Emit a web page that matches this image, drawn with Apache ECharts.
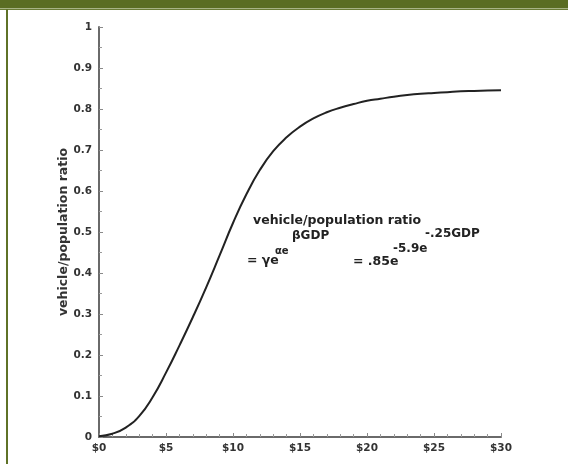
<!DOCTYPE html>
<html>
<head>
<meta charset="utf-8">
<script src="https://cdn.jsdelivr.net/npm/echarts@6/dist/echarts.min.js"></script>
<style>html,body{margin:0;padding:0;background:#fff}#c{width:568px;height:464px}</style>
</head>
<body>
<div id="c"></div>
<script>
// GDP per capita (thousand $) and read-off vehicle/population ratio
const gdp = [0,1,2,3,4,5,6,7,8,9,10,11,12,13,14,15,16,17,18,19,20,21,22,23,24,25,26,27,28,29,30];
const ratio = [0.002,0.008,0.023,0.051,0.097,0.157,0.223,0.292,0.365,0.443,0.522,0.592,0.651,0.697,0.731,0.757,0.777,0.792,0.803,0.812,0.82,0.825,0.83,0.834,0.837,0.839,0.841,0.843,0.844,0.845,0.846];
const xTicks = [0,5,10,15,20,25,30];
const yTicks = [0,0.1,0.2,0.3,0.4,0.5,0.6,0.7,0.8,0.9,1];
const yName = 'vehicle/population ratio';

const points = gdp.map((g,i)=>[g, ratio[i]]);
const font = '"DejaVu Sans", sans-serif';
const chart = echarts.init(document.getElementById('c'), null, {renderer:'canvas'});
const axisCommon = {
  axisLine:{show:true, onZero:false, lineStyle:{color:'#6a6a6a', width:2}},
  axisTick:{show:true, inside:true, length:4, lineStyle:{color:'#8a8a8a', width:1}},
  minorTick:{show:true, length:3, lineStyle:{color:'#9a9a9a', width:1}},
  splitLine:{show:false},
  axisLabel:{color:'#333', fontFamily:font, fontWeight:'bold', fontSize:10.5}
};
chart.setOption({
  animation:false,
  backgroundColor:'#fff',
  grid:{left:99, right:67, top:27, bottom:27, containLabel:false},
  xAxis:Object.assign({}, axisCommon, {
    type:'value', min:xTicks[0], max:xTicks[xTicks.length-1], interval:5,
    minorTick:Object.assign({}, axisCommon.minorTick, {splitNumber:5}),
    axisLabel:Object.assign({}, axisCommon.axisLabel, {margin:6, formatter:v=>'$'+v})
  }),
  yAxis:Object.assign({}, axisCommon, {
    type:'value', min:yTicks[0], max:yTicks[yTicks.length-1], interval:0.1,
    minorTick:Object.assign({}, axisCommon.minorTick, {splitNumber:2}),
    axisLabel:Object.assign({}, axisCommon.axisLabel, {margin:7, formatter:v=>String(+v.toFixed(1))}),
    name:yName, nameLocation:'middle', nameGap:29, nameRotate:90, nameMoveOverlap:false,
    nameTextStyle:{color:'#333', fontFamily:font, fontWeight:'bold', fontSize:12.5}
  }),
  series:[{
    type:'line', data:points, smooth:true, symbol:'none',
    lineStyle:{color:'#222', width:2}
  }],
  graphic:[
    {type:'rect', shape:{x:0,y:0,width:568,height:8}, style:{fill:'#5a6d22'}},
    {type:'rect', shape:{x:0,y:8,width:568,height:1}, style:{fill:'#a7b385'}},
    {type:'rect', shape:{x:0,y:9,width:568,height:1}, style:{fill:'#6a7c36'}},
    {type:'rect', shape:{x:6,y:9,width:2,height:455}, style:{fill:'#5f7227'}},
    {type:'text', left:253, top:214, style:{text:'vehicle/population ratio', font:'bold 12.5px '+font, fill:'#222'}},
    {type:'text', left:247, top:254, style:{text:'= γe', font:'bold 12.5px '+font, fill:'#222'}},
    {type:'text', left:275, top:246, style:{text:'αe', font:'bold 10px '+font, fill:'#222'}},
    {type:'text', left:292, top:230, style:{text:'βGDP', font:'bold 12px '+font, fill:'#222'}},
    {type:'text', left:353, top:255, style:{text:'= .85e', font:'bold 12.5px '+font, fill:'#222'}},
    {type:'text', left:393, top:243, style:{text:'-5.9e', font:'bold 12px '+font, fill:'#222'}},
    {type:'text', left:425, top:228, style:{text:'-.25GDP', font:'bold 12px '+font, fill:'#222'}}
  ]
});
</script>
</body>
</html>
